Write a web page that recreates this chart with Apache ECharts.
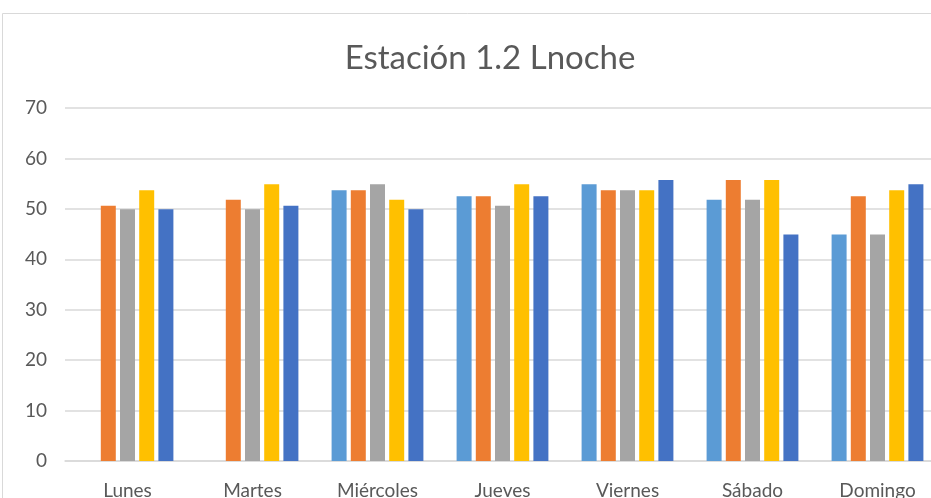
<!DOCTYPE html>
<html>
<head>
<meta charset="utf-8">
<script src="https://cdn.jsdelivr.net/npm/echarts@6/dist/echarts.min.js"></script>
<style>
  html, body { margin: 0; padding: 0; background: #fff; }
  #chart { width: 931px; height: 498px; }
</style>
</head>
<body>
<div id="chart"></div>
<script>
// dias de la semana
const dias = ['Lunes', 'Martes', 'Miércoles', 'Jueves', 'Viernes', 'Sábado', 'Domingo'];
// valores (null = sin dato)
const serie1 = [null, null, 53.7, 52.5, 54.9, 51.8, 44.9];
const serie2 = [50.6, 51.8, 53.7, 52.5, 53.7, 55.7, 52.5];
const serie3 = [49.9, 49.9, 54.9, 50.6, 53.7, 51.8, 44.9];
const serie4 = [53.7, 54.9, 51.8, 54.9, 53.7, 55.7, 53.7];
const serie5 = [49.9, 50.6, 49.9, 52.5, 55.7, 44.9, 54.9];
const yTicks = [0, 10, 20, 30, 40, 50, 60, 70];

const colores = ['#5B9BD5', '#ED7D31', '#A5A5A5', '#FFC000', '#4472C4'];
const nombres = ['Serie1', 'Serie2', 'Serie3', 'Serie4', 'Serie5'];
const datos = [serie1, serie2, serie3, serie4, serie5];

const chart = echarts.init(document.getElementById('chart'));
const font = 'Lato, sans-serif';

chart.setOption({
  animation: false,
  color: colores,
  title: {
    text: 'Estación 1.2 Lnoche',
    left: 485,
    top: 37,
    textAlign: 'center',
    textStyle: { fontFamily: font, fontSize: 33, fontWeight: 'normal', color: '#595959' }
  },
  graphic: [{
    type: 'rect',
    shape: { x: 2.5, y: 13.5, width: 1000, height: 1000 },
    style: { fill: 'none', stroke: '#d9d9d9', lineWidth: 1 },
    silent: true
  }],
  grid: { left: 65, top: 108, width: 875, bottom: 37, outerBoundsMode: 'none', containLabel: false },
  xAxis: {
    type: 'category',
    data: dias,
    axisLine: { lineStyle: { color: '#d9d9d9', width: 1.5 } },
    axisTick: { show: false },
    axisLabel: { fontFamily: font, fontSize: 19, color: '#595959', margin: 20 }
  },
  yAxis: {
    type: 'value',
    min: yTicks[0],
    max: yTicks[yTicks.length - 1],
    interval: 10,
    axisLine: { show: false },
    axisTick: { show: false },
    splitLine: { lineStyle: { color: '#d9d9d9', width: 1.5 } },
    axisLabel: { fontFamily: font, fontSize: 19, color: '#595959', margin: 18 }
  },
  series: datos.map((d, i) => ({
    name: nombres[i],
    type: 'bar',
    data: d,
    barWidth: 15,
    barGap: '28%'
  }))
});
</script>
</body>
</html>
